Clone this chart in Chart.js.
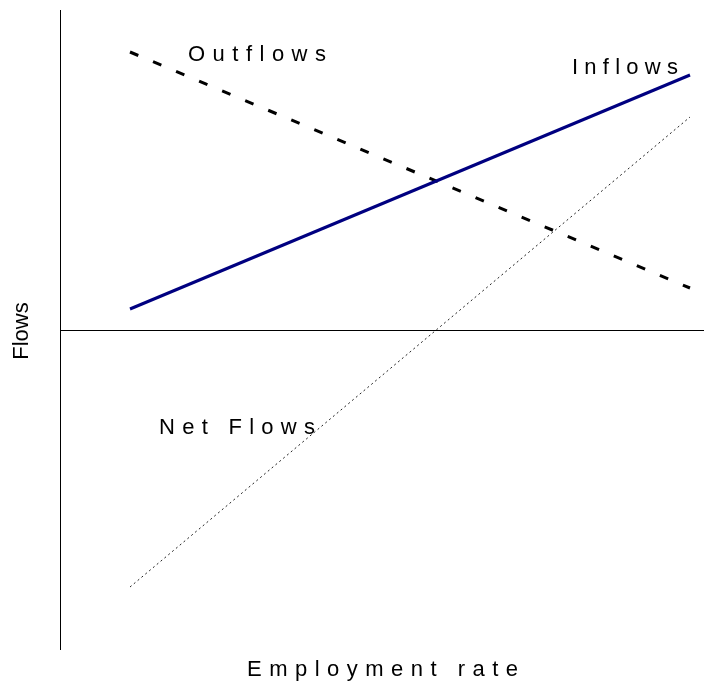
<!DOCTYPE html>
<html>
<head>
<meta charset="utf-8">
<script src="https://cdn.jsdelivr.net/npm/chart.js@4"></script>
<style>
  html, body { margin: 0; padding: 0; background: #fff; }
  canvas { display: block; }
</style>
</head>
<body>
<canvas id="flowsChart" width="704" height="683"></canvas>
<script>
// Data (arbitrary units)
const employmentRate = [1, 9];
const inflows = [2.1, 25.5];
const outflows = [27.8, 4.2];
const netFlows = [-25.7, 21.3];

const FONT = '"Liberation Sans", Arial, sans-serif';

// Draw text spread out to a given width (letter spaced look)
function spacedText(ctx, text, x, y, width) {
    const plain = ctx.measureText(text).width;
    const gap = (width - plain) / (text.length - 1);
    let cx = x;
    for (const ch of text) {
        ctx.fillText(ch, cx, y);
        cx += ctx.measureText(ch).width + gap;
    }
}

const axesAndLabels = {
    id: 'axesAndLabels',
    afterDatasetsDraw(chart) {
        const ctx = chart.ctx;
        const area = chart.chartArea;
        const y0 = chart.scales.y.getPixelForValue(0);
        ctx.save();
        ctx.strokeStyle = '#000';
        ctx.lineWidth = 1;
        ctx.beginPath();
        ctx.moveTo(area.left + 0.5, area.top);
        ctx.lineTo(area.left + 0.5, area.bottom);
        ctx.moveTo(area.left, Math.round(y0) + 0.5);
        ctx.lineTo(area.right, Math.round(y0) + 0.5);
        ctx.stroke();

        ctx.fillStyle = '#000';
        ctx.font = '22px ' + FONT;
        ctx.textBaseline = 'alphabetic';
        ctx.textAlign = 'left';
        spacedText(ctx, 'Outflows', 188, 61, 138);
        spacedText(ctx, 'Inflows', 572, 74, 106);
        spacedText(ctx, 'Net Flows', 159, 434, 156);
        spacedText(ctx, 'Employment rate', 247, 676, 271);

        ctx.translate(28, 331);
        ctx.rotate(-Math.PI / 2);
        ctx.textAlign = 'center';
        ctx.fillText('Flows', 0, 0);
        ctx.restore();
    }
};

new Chart(document.getElementById('flowsChart'), {
    type: 'line',
    data: {
        labels: employmentRate,
        datasets: [
            {
                label: 'Inflows',
                data: employmentRate.map((x, i) => ({ x: x, y: inflows[i] })),
                borderColor: '#000080',
                borderWidth: 3,
                pointRadius: 0
            },
            {
                label: 'Outflows',
                data: employmentRate.map((x, i) => ({ x: x, y: outflows[i] })),
                borderColor: '#000',
                borderWidth: 3,
                borderDash: [9, 16],
                pointRadius: 0
            },
            {
                label: 'Net Flows',
                data: employmentRate.map((x, i) => ({ x: x, y: netFlows[i] })),
                borderColor: '#222',
                borderWidth: 1,
                borderDash: [2, 3],
                pointRadius: 0
            }
        ]
    },
    options: {
        responsive: false,
        animation: false,
        layout: { padding: { left: 60, top: 10, right: 0, bottom: 33 } },
        plugins: {
            legend: { display: false },
            tooltip: { enabled: false }
        },
        scales: {
            x: { type: 'linear', min: 0, max: 9.2, display: false },
            y: { min: -32, max: 32, display: false }
        }
    },
    plugins: [axesAndLabels]
});
</script>
</body>
</html>
